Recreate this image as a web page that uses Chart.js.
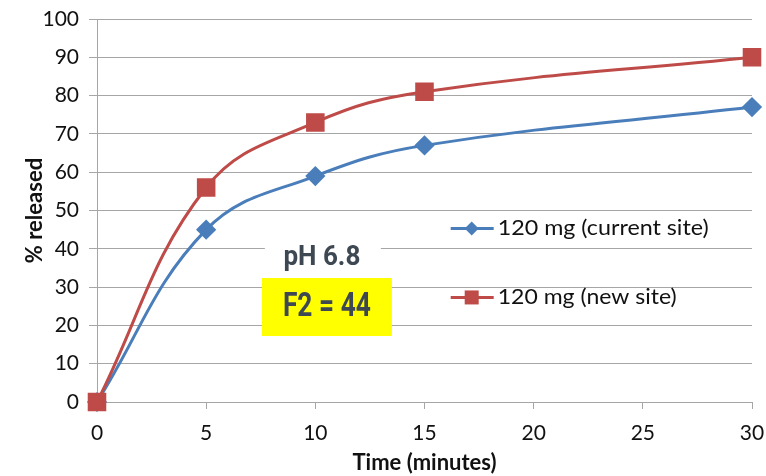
<!DOCTYPE html>
<html>
<head>
<meta charset="utf-8">
<script src="https://cdn.jsdelivr.net/npm/chart.js@4/dist/chart.umd.min.js"></script>
<style>
    html, body { margin: 0; padding: 0; background: #fff; }
    #wrap { width: 766px; height: 476px; position: relative; }
</style>
</head>
<body>
<div id="wrap"><canvas id="chart"></canvas></div>
<script>
// ========================================
// DATA
// ========================================
const timePoints = [0, 5, 10, 15, 30];
const currentSite = [0, 45, 59, 67, 77];
const newSite = [0, 56, 73, 81, 90];
const seriesLabels = ['120 mg (current site)', '120 mg (new site)'];
const phLabel = 'pH 6.8';
const f2Label = 'F2 = 44';

const BLUE = '#4a7ebb';
const RED = '#be4b48';
const GRID = '#a6a6a6';
const FONT = 'Lato, "Liberation Sans", sans-serif';

function toXY(xs, ys) {
    return xs.map((x, i) => ({ x: x, y: ys[i] }));
}

// ========================================
// PLUGINS
// ========================================

// condensed text helper: squeeze a string to a target width
function drawSqueezed(ctx, text, cx, cy, font, width, color, align) {
    ctx.save();
    ctx.font = font;
    const w = ctx.measureText(text).width;
    const k = width / w;
    ctx.translate(cx, cy);
    ctx.scale(k, 1);
    ctx.fillStyle = color;
    ctx.textAlign = align || 'center';
    ctx.textBaseline = 'middle';
    ctx.fillText(text, 0, 0);
    ctx.restore();
}

const notesPlugin = {
    id: 'notes',
    beforeDatasetsDraw(chart) {
        const ctx = chart.ctx;
        const xs = chart.scales.x, ys = chart.scales.y;
        const cx = xs.getPixelForValue(10.3);

        // white box behind pH label
        const phY = ys.getPixelForValue(37.6);
        ctx.fillStyle = '#ffffff';
        ctx.fillRect(cx - 57, phY - 17, 116, 34);
        drawSqueezed(ctx, phLabel, cx, phY, 'bold 27px Roboto, sans-serif', 77, '#3e4853');

        // yellow F2 box
        const fy = ys.getPixelForValue(24.8);
        ctx.fillStyle = '#ffff00';
        ctx.fillRect(cx - 60, fy - 29, 130, 58);
        drawSqueezed(ctx, f2Label, cx + 5, fy + 1, 'bold 33px Roboto, sans-serif', 88, '#3e4853');
    },
    afterDraw(chart) {
        // legend inside plot area
        const ctx = chart.ctx;
        const xs = chart.scales.x, ys = chart.scales.y;
        const x0 = xs.getPixelForValue(16.2);
        const rows = [
            { y: ys.getPixelForValue(45.3), color: BLUE, style: 'diamond', text: seriesLabels[0], w: 211 },
            { y: ys.getPixelForValue(27.3), color: RED, style: 'square', text: seriesLabels[1], w: 179 }
        ];
        rows.forEach(r => {
            ctx.save();
            ctx.strokeStyle = r.color;
            ctx.lineWidth = 3;
            ctx.beginPath();
            ctx.moveTo(x0, r.y);
            ctx.lineTo(x0 + 43, r.y);
            ctx.stroke();
            ctx.fillStyle = r.color;
            const mx = x0 + 21;
            if (r.style === 'diamond') {
                ctx.beginPath();
                ctx.moveTo(mx, r.y - 7);
                ctx.lineTo(mx + 7, r.y);
                ctx.lineTo(mx, r.y + 7);
                ctx.lineTo(mx - 7, r.y);
                ctx.closePath();
                ctx.fill();
            } else {
                ctx.fillRect(mx - 7, r.y - 7, 14, 14);
            }
            ctx.restore();
            drawSqueezed(ctx, r.text, x0 + 47, r.y, '21px ' + FONT, r.w, '#111', 'left');
        });
    }
};

// ========================================
// CHART
// ========================================
new Chart(document.getElementById('chart'), {
    type: 'line',
    data: {
        datasets: [
            {
                label: seriesLabels[1],
                data: toXY(timePoints, newSite),
                borderColor: RED,
                backgroundColor: RED,
                borderWidth: 3,
                pointStyle: 'rect',
                pointRadius: 11,
                pointHoverRadius: 11,
                tension: 0.4,
                clip: false,
                order: 0
            },
            {
                label: seriesLabels[0],
                data: toXY(timePoints, currentSite),
                borderColor: BLUE,
                backgroundColor: BLUE,
                borderWidth: 3,
                pointStyle: 'rectRot',
                pointRadius: 8,
                pointHoverRadius: 8,
                tension: 0.4,
                clip: false,
                order: 1
            }
        ]
    },
    options: {
        responsive: true,
        maintainAspectRatio: false,
        animation: false,
        layout: { padding: { top: 19, right: 14, left: 0, bottom: 0 } },
        plugins: {
            legend: { display: false },
            tooltip: { enabled: false }
        },
        scales: {
            x: {
                type: 'linear',
                min: 0,
                max: 30,
                ticks: {
                    stepSize: 5,
                    color: '#111',
                    font: { family: FONT, size: 21 },
                    padding: 12
                },
                grid: {
                    drawOnChartArea: false,
                    drawTicks: true,
                    tickLength: 7,
                    tickColor: GRID
                },
                border: { color: GRID, width: 1 },
                title: {
                    display: true,
                    text: 'Time (minutes)',
                    color: '#111',
                    font: { family: FONT, size: 22, weight: 'bold' },
                    padding: { top: 0, bottom: 0 }
                },
                afterFit(scale) {
                    scale.height = 74;
                    scale.paddingLeft = 0;
                    scale.paddingRight = 0;
                }
            },
            y: {
                min: 0,
                max: 100,
                ticks: {
                    stepSize: 10,
                    color: '#111',
                    font: { family: FONT, size: 21 },
                    padding: 10
                },
                grid: {
                    color: GRID,
                    tickColor: GRID,
                    tickLength: 8
                },
                border: { color: GRID, width: 1 },
                title: {
                    display: true,
                    text: '% released',
                    color: '#111',
                    font: { family: FONT, size: 22, weight: 'bold' },
                    padding: { top: 22, bottom: 2 }
                },
                afterFit(scale) {
                    scale.width = 97;
                    scale.paddingTop = 0;
                    scale.paddingBottom = 0;
                }
            }
        }
    },
    plugins: [notesPlugin]
});
</script>
</body>
</html>
